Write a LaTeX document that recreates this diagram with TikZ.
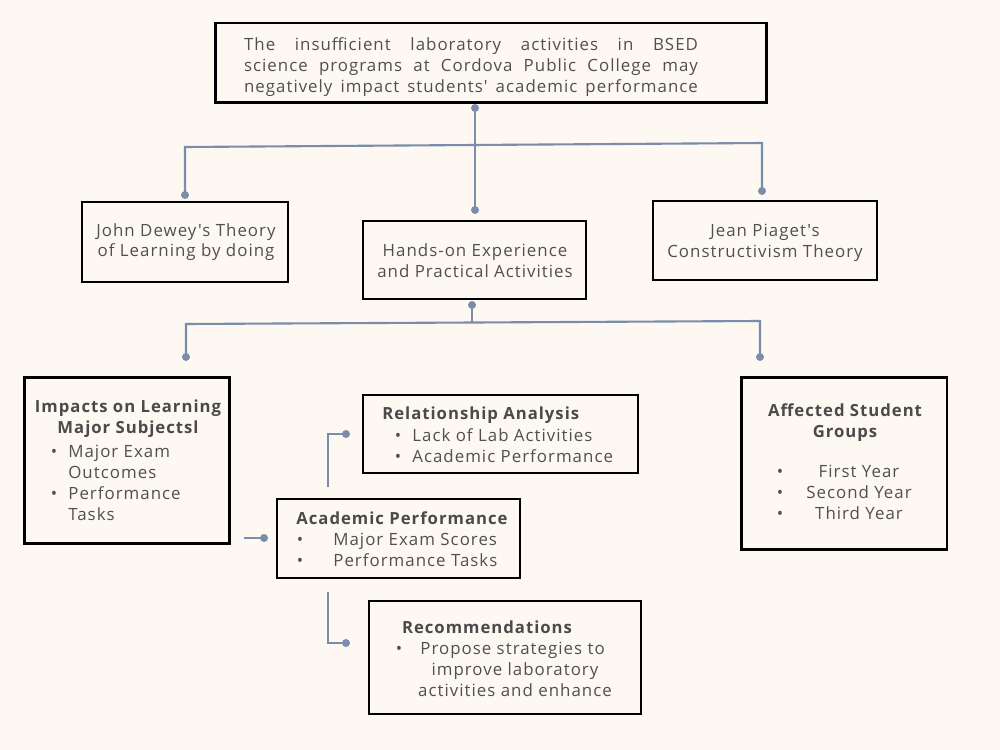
\documentclass[tikz,border=0pt]{standalone}
\usepackage{fontspec}
\setmainfont{Open Sans}[LetterSpace=6, Ligatures=TeXOff, BoldFont={Open Sans Bold}]
\definecolor{bg}{HTML}{FDF8F2}
\definecolor{ln}{HTML}{7A8DAA}
\definecolor{tx}{HTML}{505050}
\definecolor{hd}{HTML}{4A4A4A}
\tikzset{
  box/.style={draw=black, line width=1pt, inner sep=0pt},
  tbox/.style={box, line width=1.7pt},
  conn/.style={draw=ln, line width=1.2pt},
  dot/.style={circle, fill=ln, inner sep=0pt, minimum size=0.16cm},
  tt/.style={anchor=base, text=tx, inner sep=0pt, font=\fontsize{9.6}{11.9}\selectfont},
  tw/.style={tt, anchor=base west},
  hb/.style={tt, text=hd, font=\fontsize{9.5}{11.9}\selectfont\bfseries},
  hbw/.style={hb, anchor=base west},
}
\begin{document}
\begin{tikzpicture}[x=0.02cm, y=-0.02cm]
\useasboundingbox (0,0) rectangle (1000,750);
\fill[bg] (0,0) rectangle (1000,750);

% boxes
\node[tbox, minimum width=11.04cm, minimum height=1.6cm] (top) at (491,63) {};
\node[box, minimum width=4.12cm, minimum height=1.6cm] (dewey) at (185,242) {};
\node[box, minimum width=4.46cm, minimum height=1.56cm] (hands) at (474.5,260) {};
\node[box, minimum width=4.48cm, minimum height=1.58cm] (piaget) at (765,240.5) {};
\node[tbox, minimum width=4.12cm, minimum height=3.34cm] (impacts) at (127,460.5) {};
\node[box, minimum width=5.5cm, minimum height=1.56cm] (rel) at (500.5,434) {};
\node[box, minimum width=4.86cm, minimum height=1.58cm] (acad) at (398.5,538.5) {};
\node[box, minimum width=5.44cm, minimum height=2.26cm] (rec) at (505,657.5) {};
\node[tbox, minimum width=4.12cm, minimum height=3.46cm] (aff) at (844,463.5) {};

% top text
\node[text=tx, inner sep=0pt, text width=9.08cm, align=justify,
      font=\fontsize{9.6}{11.9}\selectfont] (toptext) at (471,67)
  {The insufficient laboratory activities in BSED\linebreak science programs at Cordova Public College may\linebreak \hbox to 9.08cm{negatively\hfill impact\hfill students'\hfill academic\hfill performance}};

% second row texts
\node[tt] (d1) at (186,236) {John Dewey's Theory};
\node[tt] (d2) at (186,256) {of Learning by doing};
\node[tt] (h1) at (475,256) {Hands-on Experience};
\node[tt] (h2) at (475,277) {and Practical Activities};
\node[tt] (p1) at (765,236) {Jean Piaget's};
\node[tt] (p2) at (765,257) {Constructivism Theory};

% impacts
\node[hb] (i1) at (128,412) {Impacts on Learning};
\node[hb] (i2) at (128,433) {Major Subjectsl};
\node[tt] (ib1) at (54,457) {\textbullet};
\node[tw] (i3) at (68,457) {Major Exam};
\node[tw] (i4) at (68,478) {Outcomes};
\node[tt] (ib2) at (54,499) {\textbullet};
\node[tw] (i5) at (68,499) {Performance};
\node[tw] (i6) at (68,520) {Tasks};

% relationship
\node[hbw] (r1) at (382,419) {Relationship Analysis};
\node[tt] (rb1) at (398,441) {\textbullet};
\node[tw] (r2) at (412,441) {Lack of Lab Activities};
\node[tt] (rb2) at (398,462) {\textbullet};
\node[tw] (r3) at (412,462) {Academic Performance};

% academic
\node[hbw] (a1) at (296,524) {Academic Performance};
\node[tt] (ab1) at (300,545) {\textbullet};
\node[tw] (a2) at (333,545) {Major Exam Scores};
\node[tt] (ab2) at (300,566) {\textbullet};
\node[tw] (a3) at (333,566) {Performance Tasks};

% recommendations
\node[hb] (c1) at (487,633) {Recommendations};
\node[tt] (cb1) at (399,654) {\textbullet};
\node[tw] (c2) at (420,654) {Propose strategies to};
\node[tt] (c3) at (515,675) {improve laboratory};
\node[tt] (c4) at (515,696) {activities and enhance};

% affected
\node[hb] (f1) at (845,416) {Affected Student};
\node[hb] (f2) at (845,437) {Groups};
\node[tt] (fb1) at (780,477) {\textbullet};
\node[tt] (f3) at (859,477) {First Year};
\node[tt] (fb2) at (780,498) {\textbullet};
\node[tt] (f4) at (859,498) {Second Year};
\node[tt] (fb3) at (780,519) {\textbullet};
\node[tt] (f5) at (859,519) {Third Year};

% connector coordinates
\coordinate (s0) at (475,108);
\coordinate (s1) at (475,210);
\coordinate (jl) at (185,147);
\coordinate (jr) at (762,143);
\coordinate (el) at (185,195);
\coordinate (er) at (762,191);
\coordinate (u0) at (472,305);
\coordinate (u1) at (472,323);
\coordinate (kl) at (186,324);
\coordinate (kr) at (760,321);
\coordinate (ml) at (186,357);
\coordinate (mr) at (760,357);
\coordinate (q0) at (244,538);
\coordinate (q1) at (264,538);
\coordinate (v0) at (328,487);
\coordinate (v1) at (328,434);
\coordinate (v2) at (346,434);
\coordinate (w0) at (328,592);
\coordinate (w1) at (328,643);
\coordinate (w2) at (346,643);

\draw[conn] (s0) -- (s1);
\draw[conn] (el) -- (jl) -- (jr) -- (er);
\draw[conn] (u0) -- (u1);
\draw[conn] (ml) -- (kl) -- (kr) -- (mr);
\draw[conn] (q0) -- (q1);
\draw[conn] (v0) -- (v1) -- (v2);
\draw[conn] (w0) -- (w1) -- (w2);

\foreach \p in {s0,s1,el,er,u0,ml,mr,q1,v2,w2} \node[dot] at (\p) {};
\end{tikzpicture}
\end{document}
